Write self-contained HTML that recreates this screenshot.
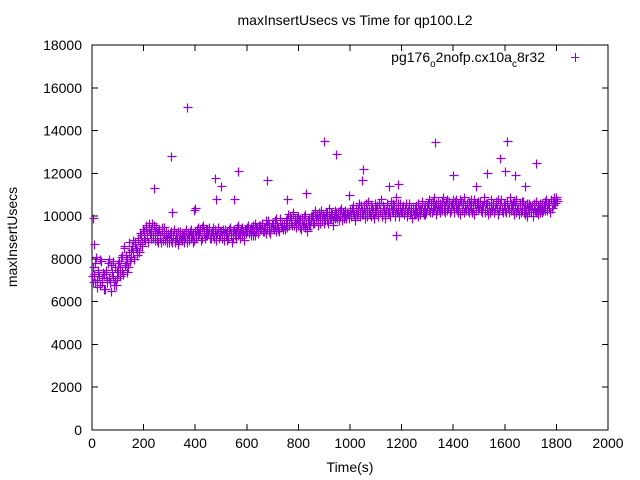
<!DOCTYPE html>
<html><head><meta charset="utf-8"><style>
body{margin:0;background:#fff;}
svg{display:block;font-family:"Liberation Sans",sans-serif;}
</style></head><body>
<svg id="chart" width="640" height="480" viewBox="0 0 640 480" xmlns="http://www.w3.org/2000/svg">
<text x="355" y="25" font-size="14" text-anchor="middle" fill="#000">maxInsertUsecs vs Time for qp100.L2</text>
<text transform="translate(17,237) rotate(-90)" font-size="14" text-anchor="middle" fill="#000">maxInsertUsecs</text>
<text x="350" y="472" font-size="14" text-anchor="middle" fill="#000">Time(s)</text>
<g id="axes"></g>
<g id="points"></g>
<g>
<text x="545" y="62" font-size="14" text-anchor="end" fill="#000">pg176<tspan font-size="10" dy="5">o</tspan><tspan dy="-5">2nofp.cx10a</tspan><tspan font-size="10" dy="5">c</tspan><tspan dy="-5">8r32</tspan></text>
<path d="M571,57.5h8M575.5,53v9" stroke="#9400d3" stroke-width="1" shape-rendering="crispEdges"/>
</g>
</svg>
<script>
const xTicks=[0,200,400,600,800,1000,1200,1400,1600,1800,2000];
const yTicks=[0,2000,4000,6000,8000,10000,12000,14000,16000,18000];
const timeStep=5;
const mainValues=[
7200,7600,6900,8100,7000,7400,6800,7900,7100,7300,
6600,7500,7000,8000,6900,7700,7200,6800,7600,7100,
7400,7900,7600,8200,7300,8500,7800,8000,7600,8300,
8100,8600,8300,8800,8500,8200,8900,8700,9100,8600,
9300,8900,9500,9100,9700,9200,9400,9000,9600,9300,
9200,8800,9400,9000,9300,8900,9500,9100,8800,9200,
9000,9300,8800,9100,8900,9200,9000,8700,9300,9000,
8900,9200,9000,9400,8800,9100,9300,9000,9200,8900,
9300,9100,9500,9200,9400,9000,9600,9300,9100,9400,
9200,9500,9000,9300,9100,9400,8900,9200,9500,9100,
9300,9000,9200,9400,9100,8900,9300,9500,9200,9000,
9400,9100,9300,9600,9200,9000,9500,9300,9100,9400,
9300,9600,9200,9500,9400,9100,9700,9300,9500,9200,
9600,9400,9700,9300,9500,9800,9400,9600,9200,9500,
9700,9400,9600,9900,9500,9300,9800,9600,9400,9700,
9800,9500,10100,9700,9900,9600,10200,9800,9500,9900,
9600,9900,9400,9800,10000,9500,9700,9300,9900,9600,
9800,10100,9700,10300,9900,9600,10200,10000,9800,10100,
10000,9800,10200,9700,10400,9900,10100,9600,10300,10000,
9900,10200,10000,10400,9800,10100,10300,9900,10200,10000,
10300,10000,10500,10100,9800,10400,10200,10600,10000,10300,
10100,10500,9900,10300,10700,10200,10000,10400,10100,10600,
10200,10500,10000,10300,10800,10100,10400,9900,10300,10600,
10400,10000,10700,10200,10500,10100,10900,10300,10000,10600,
10200,10500,10100,10400,10000,10300,10600,10200,9900,10400,
10100,10500,10200,10000,10400,10300,10700,10100,10500,10200,
10400,10800,10200,10600,10300,10900,10500,10100,10700,10400,
10600,10300,10900,10500,10200,10800,10400,10700,10300,10600,
10500,10200,10800,10400,10600,10100,10700,10300,10900,10500,
10300,10600,10200,10500,10800,10400,10100,10600,10300,10700,
10400,10700,10200,10500,10900,10300,10600,10100,10500,10800,
10300,10600,10200,10700,10400,10100,10500,10800,10300,10600,
10500,10200,10700,10400,10900,10300,10600,10100,10500,10800,
10400,10100,10600,10300,10700,10200,10500,10000,10400,10600,
10200,10500,10000,10400,10700,10300,10100,10600,10400,10200,
10500,10300,10700,10400,10600,10200,10800,10500,10900,10600,
10800];
const secondValues=[
6900,7300,7800,6700,7500,7200,8000,6900,7400,6600,
7300,6900,7800,7100,6500,7400,7900,7000,6800,7500,
7800,7200,8100,7500,8600,7700,8200,7400,8800,7900,
8400,8900,8000,8700,8400,9000,8300,9200,8800,9400,
9000,9600,9200,8800,9400,9000,9700,9100,8900,9500,
8900,9300,9100,8800,9500,9200,8900,9300,9000,8800,
9200,8900,9100,9400,8800,9000,9300,8900,9100,9200,
9100,8800,9300,9000,9200,8900,9400,9100,8800,9300,
9000,9400,9100,9300,8900,9500,9200,9000,9400,9100,
9400,9000,9200,9500,9000,9300,9100,9400,9000,9300,
9100,9400,8900,9200,9300,9000,9400,9100,8800,9300,
9200,9000,9500,9100,9300,9400,9100,8900,9400,9200,
9500,9200,9400,9100,9600,9300,9100,9500,9300,9600,
9400,9700,9300,9500,9200,9600,9800,9300,9500,9700,
9500,9800,9300,9600,9400,9900,9500,9700,9600,9400,
9600,9900,9600,10000,9700,10100,9600,9900,9700,10000,
9800,9500,9900,9600,9700,10100,9400,9800,9600,10000,
10000,9700,10200,9800,10100,9900,9700,10300,9900,9700,
9900,10200,9800,10100,9900,10200,9800,10000,9900,10200,
10100,9800,10300,10000,10200,9900,10000,10200,10100,9900,
10100,10400,10200,9900,10300,10100,10400,10200,10500,10100,
10400,10200,10600,10000,10300,10100,10500,10300,9900,10200,
10400,10100,10600,10200,10000,10500,10300,10100,10600,10200,
10200,10500,10300,10600,10000,10400,10200,10600,10400,10200,
10400,10100,10300,10600,10200,10500,10100,10400,10300,10100,
10400,10200,10600,10300,10100,10600,10200,10400,10100,10500,
10600,10300,10500,10200,10700,10400,10600,10300,10500,10200,
10400,10700,10300,10500,10700,10300,10600,10200,10500,10800,
10300,10700,10400,10200,10500,10800,10300,10600,10200,10400,
10600,10300,10700,10400,10200,10500,10800,10300,10600,10400,
10600,10300,10500,10700,10200,10600,10300,10500,10200,10400,
10500,10200,10400,10600,10800,10300,10600,10400,10200,10500,
10300,10600,10400,10200,10600,10500,10300,10700,10200,10400,
10300,10500,10200,10700,10400,10100,10300,10600,10200,10500,
10400,10200,10600,10300,10200,10500,10400,10200,10600,10300,
10400,10700,10300,10600,10400,10800,10400,10700,10600,10900,
10700];
const outlierTimes=[5,8,240,305,310,370,395,400,475,480,500,550,565,680,755,830,900,945,995,1045,1050,1150,1185,1180,1330,1400,1490,1530,1580,1600,1610,1640,1680,1720,1760];
const outlierValues=[9900,8700,11300,12800,10200,15100,10300,10400,11800,10800,11400,10800,12100,11700,10800,11100,13500,12900,11000,11700,12200,11400,11500,9100,13450,11900,11400,12000,12700,12100,13500,11900,11400,12500,10800];

const L=92,R=608,T=45,B=430;
const xs=v=>L+(v-0)/(2000-0)*(R-L);
const ys=v=>B-(v-0)/(18000-0)*(B-T);
const NS="http://www.w3.org/2000/svg";
const axes=document.getElementById('axes');
const pts=document.getElementById('points');
function mk(tag,attrs,parent){const e=document.createElementNS(NS,tag);for(const k in attrs)e.setAttribute(k,attrs[k]);parent.appendChild(e);return e;}

const frame=mk('rect',{x:L,y:T,width:R-L,height:B-T,fill:'none',stroke:'#000','stroke-width':1,'shape-rendering':'crispEdges'},axes);



xTicks.forEach(t=>{
  const x=xs(t);
  const tk=mk('path',{d:`M${x},${B}v-6M${x},${T}v6`,stroke:'#000','stroke-width':1,'shape-rendering':'crispEdges'},axes);
  
  
  const lb=mk('text',{x:x,y:B+18,'font-size':14,'text-anchor':'middle',fill:'#000'},axes);
  lb.textContent=t;
  
  
});
yTicks.forEach(t=>{
  const y=ys(t);
  const tk=mk('path',{d:`M${L},${y}h6M${R},${y}h-6`,stroke:'#000','stroke-width':1,'shape-rendering':'crispEdges'},axes);
  
  
  const lb=mk('text',{x:L-10,y:y+5,'font-size':14,'text-anchor':'end',fill:'#000'},axes);
  lb.textContent=t;
  
  
});

let d='';
function plus(t,v){const x=Math.round(xs(t))+0.5,y=Math.round(ys(v))+0.5;d+=`M${x-4},${y}h9M${x},${y-4}v9`;}
mainValues.forEach((v,i)=>plus(i*timeStep,v));
secondValues.forEach((v,i)=>plus(i*timeStep+timeStep/2,v));
outlierValues.forEach((v,i)=>plus(outlierTimes[i],v));
const p=mk('path',{d:d,stroke:'#9400d3','stroke-width':1.2,fill:'none'},pts);


</script>
</body></html>
